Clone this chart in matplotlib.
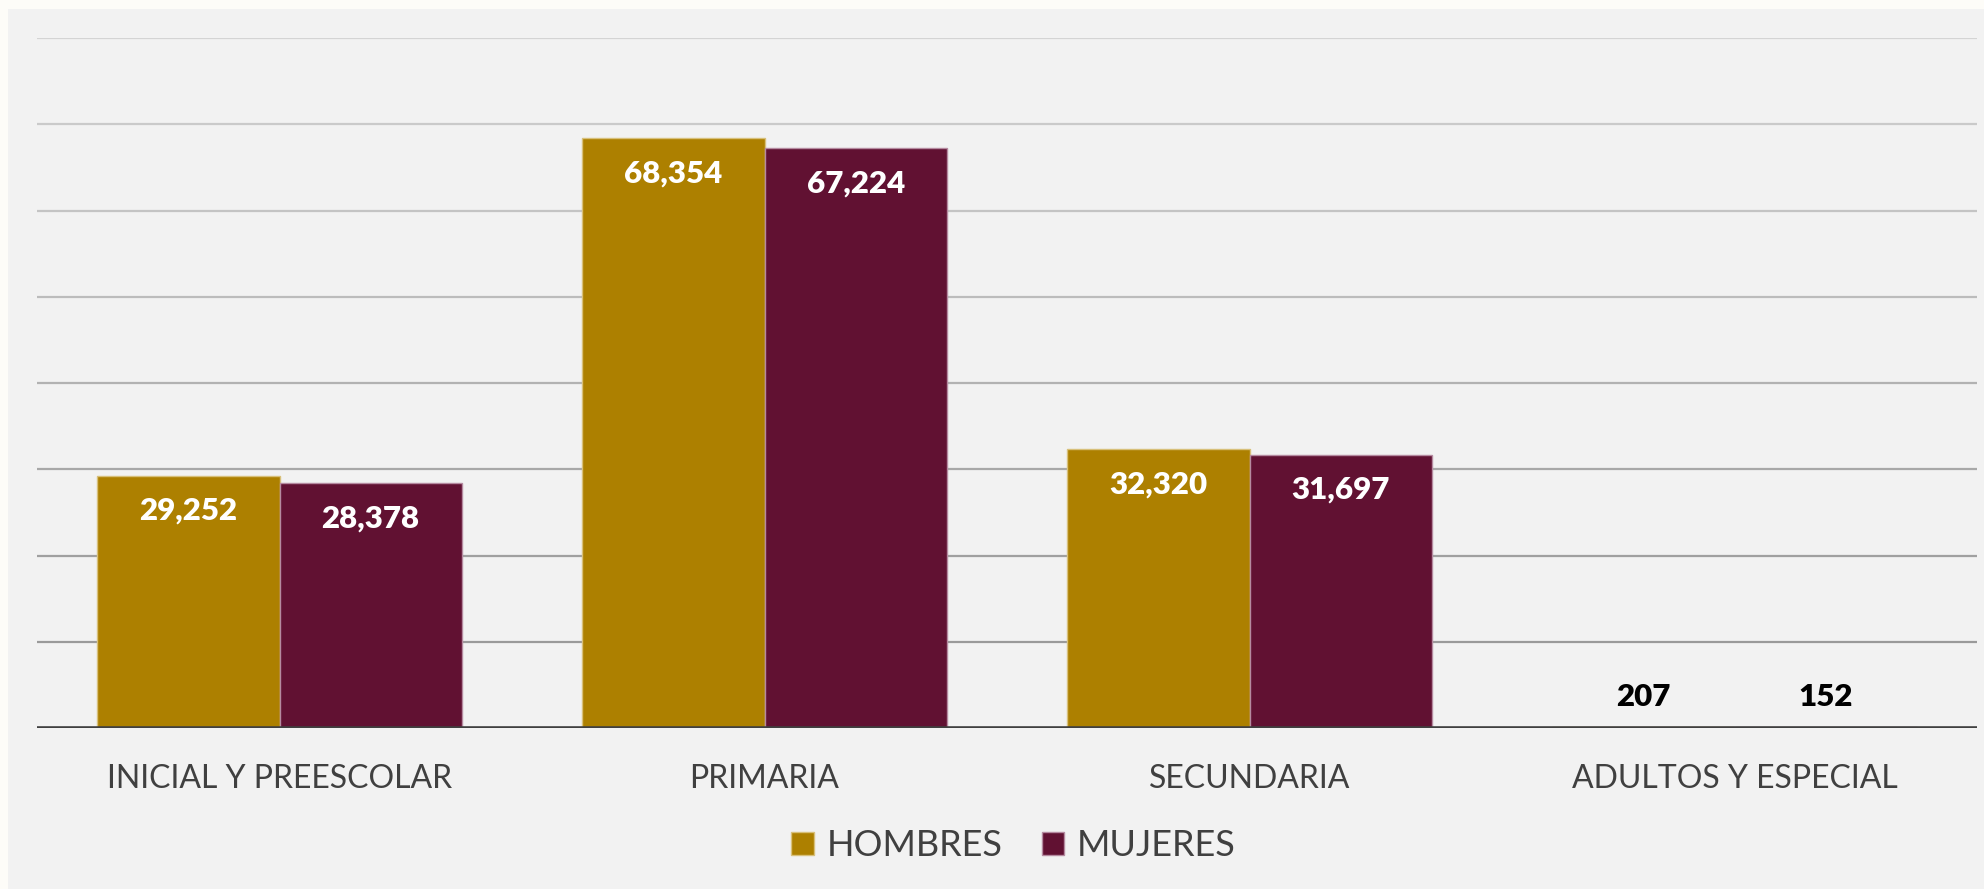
import matplotlib
matplotlib.use("Agg")
import matplotlib.pyplot as plt
from matplotlib.patches import Rectangle, Patch
from matplotlib.transforms import blended_transform_factory
import numpy as np

categories = ["INICIAL Y PREESCOLAR", "PRIMARIA", "SECUNDARIA", "ADULTOS Y ESPECIAL"]
series_names = ["HOMBRES", "MUJERES"]
hombres = [29252, 68354, 32320, 207]
mujeres = [28378, 67224, 31697, 152]
y_ticks = [0, 10000, 20000, 30000, 40000, 50000, 60000, 70000, 80000]

colors = ["#AD8000", "#611132"]
edge_colors = ["#d8c07a", "#b58aa0"]
text_col = "#404040"
font = ["Lato", "DejaVu Sans"]

W, H = 1984, 889
fig = plt.figure(figsize=(W / 100, H / 100), dpi=100)
fig.patch.set_facecolor("#fdfcf8")
fig.patches.append(Rectangle((8 / W, 0), 1 - 8 / W, 1 - 9 / H, transform=fig.transFigure,
                             facecolor="#f2f2f2", edgecolor="none", zorder=-10))

left, right = 37 / W, 1977 / W
bottom, top = (H - 728.3) / H, (H - 38) / H
ax = fig.add_axes([left, bottom, right - left, top - bottom])
ax.set_facecolor("none")
ax.set_zorder(1)

x = np.arange(len(categories))
bw = 0.376
ax.set_xlim(-0.5, len(categories) - 0.5)
ax.set_ylim(y_ticks[0], y_ticks[-1])

# gridlines (lighter towards top as in reference)
grid_cols = ["#9a9a9a", "#a0a0a0", "#a8a8a8", "#b2b2b2", "#bcbcbc", "#c4c4c4", "#cacaca", "#d4d4d4"]
for t, gc in zip(y_ticks[1:], grid_cols):
    ax.axhline(t, color=gc, lw=1.6, zorder=1)

series = [hombres, mujeres]
for k, (vals, c, ec) in enumerate(zip(series, colors, edge_colors)):
    xs = x + (k - 0.5) * bw
    ax.bar(xs, vals, width=bw, color=c, edgecolor=ec, linewidth=1.0, zorder=2)
    for xi, v in zip(xs, vals):
        lab = f"{v:,}"
        if v > 5000:
            ax.annotate(lab, (xi, v), xytext=(0, -31.7), textcoords="offset points",
                        ha="center", va="baseline", color="white", fontsize=22.5,
                        fontweight="heavy", family=font, zorder=3)
        else:
            ax.annotate(lab, (xi, v), xytext=(0, 15.1), textcoords="offset points",
                        ha="center", va="baseline", color="black", fontsize=22.5,
                        fontweight="heavy", family=font, zorder=3)

ax.axhline(0, color="#404040", lw=2.6, zorder=4)

for s in ax.spines.values():
    s.set_visible(False)
ax.set_xticks([])
ax.set_yticks([])

tr = blended_transform_factory(ax.transData, fig.transFigure)
for xi, cat in zip(x, categories):
    ax.text(xi, (H - 788) / H, cat, transform=tr, ha="center", va="baseline",
            fontsize=23, color=text_col, family=font)

handles = [Patch(facecolor=c, edgecolor=ec, linewidth=1.0) for c, ec in zip(colors, edge_colors)]
leg = fig.legend(handles, series_names, loc="center", bbox_to_anchor=(1013.5 / W, (H - 846) / H),
                 ncol=2, frameon=False, handlelength=0.62, handleheight=0.62,
                 handletextpad=0.35, columnspacing=1.1, prop={"family": font, "size": 26})
for t in leg.get_texts():
    t.set_color(text_col)

fig.savefig("out.png", dpi=100, facecolor=fig.get_facecolor())
